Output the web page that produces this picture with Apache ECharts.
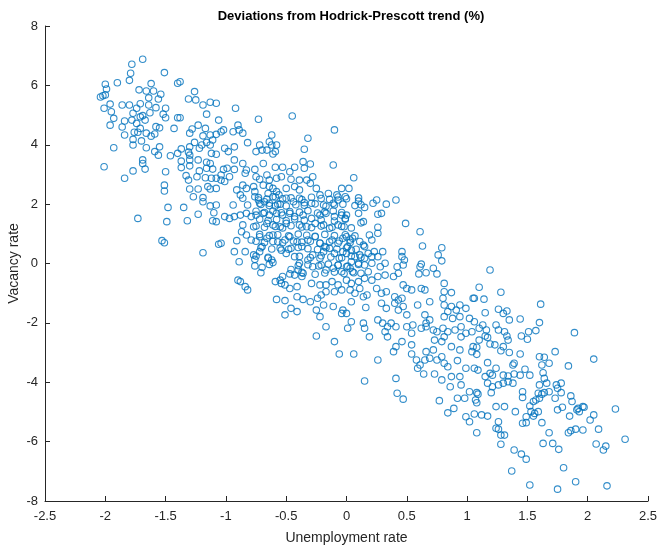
<!DOCTYPE html>
<html>
<head>
<meta charset="utf-8">
<script src="https://cdn.jsdelivr.net/npm/echarts@6/dist/echarts.min.js"></script>
<style>
  html, body { margin: 0; padding: 0; background: #fff; }
  #chart { width: 659px; height: 546px; }
</style>
</head>
<body>
<div id="chart"></div>
<script>
// HP-filtered deviations (%): [unemployment, vacancy]
const deviations = [
  [-1.69,6.88],[-1.78,6.71],[-1.79,6.41],[-1.80,6.17],[-1.51,6.43],[-1.90,6.09],[-2.00,6.04],[-1.40,6.07],[-1.38,6.12],[-1.62,6.06],
  [-1.99,5.88],[-1.72,5.85],[-1.66,5.81],[-1.60,5.81],[-2.02,5.65],[-2.04,5.61],[-2.00,5.68],[-1.54,5.70],[-1.64,5.58],[-1.56,5.54],
  [-1.26,5.79],[-1.31,5.54],[-1.25,5.51],[-1.96,5.37],[-1.86,5.34],[-1.80,5.34],[-1.71,5.38],[-1.64,5.34],[-1.19,5.34],[-1.13,5.43],
  [-1.08,5.40],[-2.01,5.23],[-1.74,5.23],[-1.58,5.25],[-1.50,5.23],[-1.95,5.11],[-1.77,5.06],[-1.63,5.08],[-1.52,5.03],[-1.16,5.03],
  [-1.93,4.89],[-1.84,4.80],[-1.78,4.83],[-1.71,4.94],[-1.69,4.98],[-1.67,4.83],[-1.50,4.91],[-1.40,4.91],[-1.38,4.91],[-1.06,4.83],
  [-1.74,4.72],[-1.96,4.66],[-1.86,4.60],[-1.71,4.55],[-1.58,4.61],[-1.55,4.57],[-1.43,4.55],[-1.28,4.53],[-1.23,4.66],[-1.17,4.55],
  [-1.76,4.42],[-1.73,4.42],[-1.66,4.39],[-1.59,4.36],[-1.30,4.39],[-1.84,4.33],[-1.19,4.30],[-1.13,4.33],[-1.08,4.35],[-1.77,4.18],
  [-1.70,4.13],[-1.62,4.29],[-1.26,4.08],[-1.16,4.08],[-1.11,4.16],[-1.93,3.90],[-1.77,3.99],[-1.66,3.90],[-1.55,3.93],[-1.37,3.86],
  [-1.30,3.93],[-1.20,3.99],[-1.13,3.99],[-1.59,3.77],[-1.56,3.65],[-1.46,3.63],[-1.40,3.71],[-1.31,3.75],[-1.30,3.65],[-1.22,3.88],
  [-1.12,3.71],[-1.08,3.68],[-1.69,3.49],[-1.69,3.37],[-1.37,3.45],[-1.30,3.49],[-1.23,3.49],[-1.16,3.41],[-1.13,3.37],[-2.01,3.26],
  [-1.67,3.18],[-1.50,3.09],[-1.77,3.12],[-1.37,3.23],[-1.30,3.29],[-1.22,3.12],[-1.16,3.21],[-1.11,3.18],[-1.84,2.87],[-1.33,2.96],
  [-1.31,2.81],[-1.24,2.92],[-1.17,2.89],[-1.12,2.87],[-1.08,2.87],[-1.51,2.64],[-1.51,2.44],[-1.30,2.51],[-1.23,2.51],[-1.15,2.59],
  [-1.13,2.51],[-1.08,2.53],[-1.27,2.25],[-1.19,2.22],
  [-1.73,1.52],[-1.48,1.89],[-1.35,1.89],[-1.49,1.41],[-1.32,1.44],[-1.23,1.66],[-1.19,2.08],[-1.13,1.94],[-1.08,1.97],[-1.10,1.71],
  [-1.11,1.44],[-1.08,1.41],[-1.53,0.77],[-1.51,0.70],[-1.19,0.36],[-1.06,0.65],
  [-0.92,5.23],[-0.73,4.86],[-0.45,4.97],[-0.10,4.50],[-0.90,4.66],[-0.89,4.50],[-0.86,4.39],[-1.02,4.50],[-1.04,4.44],[-0.94,4.44],
  [-0.62,4.33],[-0.32,4.22],[-0.82,4.07],[-0.64,4.10],[-0.62,3.99],[-0.72,3.99],[-0.70,3.82],[-0.75,3.77],[-0.58,3.99],[-0.35,3.85],
  [-1.01,3.88],[-0.98,3.77],[-0.93,3.93],[-0.66,3.82],[-0.61,3.69],[-0.59,3.77],[-0.93,3.49],[-0.86,3.37],[-0.69,3.37],[-0.36,3.43],
  [-0.30,3.35],[-0.11,3.32],[-1.02,3.17],[-0.99,3.21],[-0.93,3.17],[-0.83,3.15],[-0.76,3.17],[-0.59,3.24],[-0.53,3.24],[-0.47,3.09],
  [-0.43,3.24],[-0.35,3.21],[-0.28,2.92],[-1.04,2.98],[-0.97,2.92],[-0.84,3.04],[-0.75,2.92],[-0.72,2.84],[-0.66,2.98],[-0.64,2.81],
  [-0.58,2.87],[-0.54,2.92],[-0.46,2.84],[-0.39,2.81],[-0.33,2.81],[-1.04,2.81],[-1.01,2.76],[-0.91,2.48],[-0.86,2.64],[-0.83,2.53],
  [-0.77,2.59],[-0.76,2.42],[-0.69,2.64],[-0.64,2.59],[-0.61,2.53],[-0.58,2.42],[-0.56,2.31],[-0.65,2.36],[-0.61,2.25],[-0.50,2.53],
  [-0.43,2.59],[-0.39,2.48],[-0.30,2.70],[-0.25,2.53],[-0.15,2.36],[-0.04,2.53],[-0.22,2.31],[-0.08,2.31],[-0.88,2.31],[-0.86,2.20],
  [-0.76,2.25],[-0.73,2.14],[-0.94,1.97],[-0.82,1.97],[-0.72,2.03],[-0.68,2.08],[-0.64,2.03],[-0.59,1.94],[-0.55,2.00],[-0.50,2.20],
  [-0.44,2.08],[-0.39,2.20],[-0.35,2.05],[-0.29,2.03],[-0.19,1.97],[-0.11,2.03],[-0.07,2.14],
  [-1.01,1.58],[-0.97,1.52],[-0.93,1.58],[-0.88,1.63],[-0.83,1.69],[-0.79,1.58],[-0.75,1.63],[-0.69,1.69],[-0.64,1.63],[-0.58,1.69],
  [-0.53,1.63],[-0.47,1.69],[-0.43,1.58],[-0.36,1.63],[-0.29,1.52],[-0.22,1.63],[-0.17,1.69],[-0.10,1.58],[-0.04,1.63],[-0.86,1.30],
  [-0.77,1.24],[-0.66,1.35],[-0.61,1.30],[-0.55,1.24],[-0.50,1.35],[-0.39,1.30],[-0.33,1.24],[-0.26,1.35],[-0.19,1.30],[-0.14,1.19],
  [-0.07,1.30],[-0.02,1.24],[-1.04,0.68],[-0.91,0.77],[-0.87,1.07],[-0.83,0.96],[-0.79,0.79],[-0.72,0.90],[-0.66,0.85],[-0.61,0.96],
  [-0.57,0.73],[-0.51,0.79],[-0.47,0.90],[-0.41,0.73],[-0.37,0.57],[-0.32,0.79],[-0.26,0.90],[-0.22,0.68],[-0.18,0.57],[-0.12,0.79],
  [-0.07,0.68],[-0.03,0.85],[-0.93,0.40],[-0.84,0.40],[-0.77,0.29],[-0.76,0.14],[-0.70,0.57],[-0.72,0.40],[-0.65,0.18],[-0.62,0.12],
  [-0.61,0.03],[-0.54,0.45],[-0.50,0.34],[-0.46,0.51],[-0.43,0.23],[-0.39,0.01],[-0.32,0.12],[-0.28,0.29],[-0.22,0.18],[-0.19,0.40],
  [-0.14,0.51],[-0.10,0.34],[-0.06,0.18],[-0.03,0.40],[-0.89,0.06],[-0.76,-0.08],[-0.70,-0.13],[-0.46,-0.20],[-0.40,-0.22],[-0.36,-0.33],
  [-0.43,-0.39],[-0.28,-0.11],[-0.21,-0.05],[-0.17,-0.22],[-0.11,-0.16],[-0.07,-0.05],[-0.04,-0.28],[-0.90,-0.56],[-0.88,-0.61],[-0.84,-0.78],
  [-0.82,-0.89],[-0.59,-0.61],[-0.55,-0.56],[-0.53,-0.44],[-0.54,-0.67],[-0.51,-0.72],[-0.47,-0.84],[-0.41,-0.78],[-0.37,-0.44],[-0.29,-0.67],
  [-0.22,-0.72],[-0.17,-0.72],[-0.12,-0.61],[-0.07,-0.72],[-0.04,-0.89],[-0.17,-0.95],[-0.10,-0.95],[-0.58,-1.21],[-0.51,-1.25],[-0.41,-1.12],
  [-0.36,-1.21],[-0.30,-1.29],[-0.24,-1.17],[-0.21,-1.06],[-0.19,-1.40],[-0.11,-1.45],[-0.46,-1.51],[-0.41,-1.62],[-0.25,-1.57],[-0.22,-1.79],
  [-0.51,-1.73],[-0.04,-1.68],[-0.03,-1.57],[-0.17,-2.13],[-0.25,-2.44],[-0.10,-2.63],[-0.06,-3.05],
  [0.06,2.89],[0.02,2.53],[-0.01,2.25],[0.10,2.10],[0.15,1.89],[0.22,2.03],[0.25,2.14],[0.33,2.00],[0.41,2.14],[0.10,1.69],
  [0.00,1.63],[-0.01,1.52],[0.26,1.66],[0.29,1.69],[0.12,1.37],[0.14,1.41],[0.26,1.22],[0.26,1.02],[0.49,1.35],[0.61,1.07],
  [0.19,0.96],[0.21,0.79],[0.00,0.90],[0.03,0.79],[0.05,0.85],[0.14,0.62],[0.15,0.57],[0.01,0.57],[0.04,0.45],[0.00,0.34],
  [0.63,0.59],[0.79,0.53],[0.76,0.29],[0.23,0.40],[0.30,0.40],[0.46,0.40],[0.46,0.23],[0.48,0.12],[0.07,0.23],[0.11,0.29],
  [0.18,0.34],[0.15,0.18],[0.21,0.23],[0.26,0.23],[0.04,0.06],[0.10,0.01],[0.15,-0.05],[0.21,0.01],[0.32,0.01],[0.28,-0.11],
  [0.42,-0.11],[0.47,-0.05],[0.62,-0.02],[0.61,-0.11],[0.79,0.09],[0.72,-0.16],[0.00,-0.11],[0.03,-0.16],
  [0.00,-0.56],[0.04,-0.67],[0.10,-0.61],[0.15,-0.50],[0.21,-0.56],[0.26,-0.44],[0.32,-0.39],[0.39,-0.44],[0.43,-0.33],[0.05,-0.28],
  [0.12,-0.33],[0.18,-0.28],[0.03,-0.89],[0.07,-1.00],[0.11,-0.84],[0.14,-1.12],[0.17,-1.06],[0.25,-0.84],[0.29,-1.00],[0.33,-0.95],
  [0.40,-1.12],[0.43,-1.23],[0.46,-1.17],[0.47,-0.72],[0.50,-0.84],[0.54,-0.89],[0.62,-0.84],[0.65,-0.89],[0.60,-0.35],[0.66,-0.31],
  [0.75,-0.35],[0.81,-0.67],[0.81,-0.95],[0.87,-0.98],[0.80,-1.17],[0.04,-1.29],[0.00,-1.68],[0.16,-1.48],[0.29,-1.34],[0.33,-1.51],
  [0.40,-1.34],[0.43,-1.57],[0.47,-1.45],[0.50,-1.73],[0.59,-1.40],[0.69,-1.29],[0.81,-1.40],[0.84,-1.62],[0.87,-1.45],[0.91,-1.57],
  [0.94,-1.40],[0.99,-1.51],[0.81,-1.79],[0.88,-1.85],[0.94,-1.79],[0.65,-1.73],[0.69,-1.90],[0.66,-2.01],[0.04,-1.96],[0.01,-2.18],
  [0.14,-2.01],[0.15,-2.18],[0.19,-2.47],[0.26,-1.90],[0.30,-2.01],[0.32,-2.30],[0.34,-2.47],[0.37,-2.01],[0.41,-2.13],[0.34,-2.13],
  [0.50,-2.13],[0.54,-2.35],[0.55,-2.07],[0.62,-2.18],[0.66,-2.13],[0.72,-2.24],[0.75,-2.30],[0.80,-2.18],[0.84,-2.30],[0.90,-2.24],
  [0.95,-2.13],[0.99,-2.35],[0.95,-2.47],[0.73,-2.58],[0.79,-2.63],[0.81,-2.47],[0.87,-2.80],[0.94,-2.91],[0.06,-3.05],[0.26,-3.25],
  [0.39,-2.97],[0.41,-2.80],[0.46,-2.63],[0.54,-2.74],[0.54,-3.05],[0.66,-2.97],[0.69,-3.19],[0.72,-2.91],[0.58,-3.25],[0.61,-3.42],
  [0.59,-3.53],[0.65,-3.25],[0.75,-3.25],[0.79,-3.14],[0.81,-3.36],[0.84,-3.48],[0.92,-3.27],[0.99,-3.53],[0.64,-3.72],[0.73,-3.72],
  [0.79,-3.92],[0.87,-3.81],[0.94,-3.81],[0.95,-4.09],[0.86,-4.15],[0.15,-3.96],[0.41,-3.87],[0.42,-4.37],[0.47,-4.57],[0.77,-4.62],
  [0.92,-4.54],[0.98,-4.54],[0.89,-4.88],[0.84,-5.03],[0.99,-5.16],
  [1.19,-0.22],[1.10,-0.80],[1.28,-0.97],[1.05,-1.17],[1.06,-1.17],[1.14,-1.20],[1.61,-1.37],[1.15,-1.66],[1.26,-1.54],[1.30,-1.68],
  [1.33,-1.60],[1.35,-1.90],[1.44,-1.87],[1.60,-1.99],[1.06,-1.96],[1.02,-1.85],[1.13,-2.07],[1.10,-2.18],[1.16,-2.24],[1.24,-2.07],
  [1.26,-2.24],[1.31,-2.30],[1.33,-2.44],[1.34,-2.58],[1.51,-2.30],[1.57,-2.26],[1.45,-2.44],[1.50,-2.55],[1.89,-2.33],[1.15,-2.44],
  [1.17,-2.49],[1.10,-2.58],[1.04,-2.30],[1.19,-2.71],[1.23,-2.74],[1.30,-2.80],[1.05,-2.80],[1.08,-2.82],[1.04,-2.97],[1.28,-2.94],
  [1.35,-3.00],[1.44,-3.05],[1.73,-2.97],[1.60,-3.14],[1.64,-3.16],[1.08,-3.06],[2.05,-3.22],[1.17,-3.34],[1.39,-3.36],[1.38,-3.42],
  [1.62,-3.42],[1.68,-3.36],[1.84,-3.45],[1.06,-3.53],[1.09,-3.59],[1.24,-3.53],[1.48,-3.56],[1.63,-3.68],[1.19,-3.70],[1.21,-3.76],
  [1.15,-3.81],[1.30,-3.76],[1.34,-3.79],[1.39,-3.72],[1.44,-3.76],[1.52,-3.76],[1.64,-3.87],
  [1.08,-4.35],[1.09,-4.40],[1.07,-4.60],[1.08,-4.69],[1.02,-4.32],[1.17,-4.03],[1.21,-4.15],[1.26,-4.09],[1.30,-4.03],[1.34,-3.98],
  [1.38,-4.03],[1.20,-4.35],[1.24,-4.82],[1.31,-4.82],[1.06,-5.07],[1.12,-5.10],[1.17,-5.14],[1.02,-5.33],[1.26,-5.33],[1.24,-5.55],
  [1.26,-5.58],[1.08,-5.70],[1.28,-5.78],[1.31,-5.78],[1.28,-6.09],[1.40,-4.99],[1.46,-4.32],[1.46,-4.51],[1.52,-4.80],[1.55,-4.65],
  [1.57,-4.60],[1.60,-4.54],[1.59,-4.37],[1.62,-4.40],[1.64,-4.35],[1.53,-4.99],[1.56,-5.05],[1.59,-4.99],[1.55,-5.14],[1.49,-5.16],
  [1.46,-5.38],[1.49,-5.36],[1.62,-5.36],[1.60,-4.09],[1.66,-4.03],[1.74,-4.09],[1.78,-4.03],[1.75,-4.20],[1.68,-4.32],[1.78,-4.35],
  [1.73,-4.54],[1.86,-4.46],[1.87,-4.65],[1.75,-4.93],[1.79,-4.84],[1.85,-5.14],[1.91,-4.93],[1.92,-4.88],[1.93,-4.99],[1.96,-4.82],
  [1.97,-4.84],[2.05,-5.10],[2.02,-5.27],[2.23,-4.90],[1.68,-5.70],[1.84,-5.70],[1.86,-5.63],[1.90,-5.58],[1.96,-5.61],[2.09,-5.58],
  [1.63,-6.06],[1.71,-6.06],[1.76,-6.26],[1.39,-6.28],[1.45,-6.42],[1.49,-6.59],[2.07,-6.08],[2.15,-6.15],[2.13,-6.28],[2.31,-5.92],
  [1.37,-6.99],[1.80,-6.88],[1.52,-7.46],[1.75,-7.60],[1.90,-7.35],[2.16,-7.49]
];

// extra points read from a close-up of the crowded core (-0.75..0.12, -0.4..2.3)
const corePoints = [
  [-0.73,2.22],[-0.66,2.17],[-0.59,2.24],[-0.53,2.18],[-0.46,2.21],[-0.37,2.15],[-0.29,2.23],[-0.21,2.19],[-0.14,2.16],[-0.07,2.24],[0.00,2.18],[0.10,2.21],
  [-0.71,1.99],[-0.64,1.95],[-0.57,2.00],[-0.50,1.94],[-0.42,1.98],[-0.35,1.96],[-0.26,2.01],[-0.17,1.93],[-0.10,1.97],[-0.03,2.00],[0.07,1.95],[0.12,1.98],
  [-0.75,1.76],[-0.68,1.72],[-0.61,1.77],[-0.54,1.71],[-0.47,1.75],[-0.39,1.73],[-0.32,1.78],[-0.24,1.70],[-0.18,1.74],[-0.11,1.77],[-0.04,1.72],
  [-0.72,1.49],[-0.65,1.45],[-0.58,1.48],[-0.50,1.44],[-0.43,1.50],[-0.35,1.46],[-0.21,1.47],[-0.10,1.43],[-0.01,1.49],
  [-0.75,1.26],[-0.68,1.22],[-0.59,1.25],[-0.53,1.20],[-0.46,1.27],[-0.37,1.23],[-0.29,1.21],[-0.21,1.26],[-0.12,1.22],[-0.04,1.25],[0.04,1.20],
  [-0.72,0.98],[-0.64,0.94],[-0.57,0.97],[-0.48,0.93],[-0.40,0.99],[-0.33,0.95],[-0.26,0.92],[-0.18,0.98],[-0.10,0.94],[-0.01,0.97],[0.07,0.93],
  [-0.75,0.75],[-0.68,0.71],[-0.61,0.74],[-0.53,0.70],[-0.44,0.76],[-0.37,0.72],[-0.30,0.75],[-0.22,0.69],[-0.14,0.73],[-0.06,0.76],[0.03,0.71],[0.11,0.74],
  [-0.71,0.53],[-0.62,0.49],[-0.55,0.52],[-0.48,0.48],[-0.40,0.54],[-0.32,0.50],[-0.24,0.47],[-0.17,0.53],[-0.08,0.49],[0.00,0.52],[0.08,0.48],
  [-0.75,0.25],[-0.65,0.21],[-0.39,0.24],[-0.30,0.20],[-0.21,0.26],[-0.13,0.22],[-0.04,0.19],[0.04,0.25],[0.12,0.21],
  [-0.64,-0.03],[-0.40,-0.07],[-0.32,-0.04],[-0.23,-0.08],[-0.15,-0.02],[-0.07,-0.06],[0.01,-0.09],[0.10,-0.03],
  [-0.71,-0.31],[-0.47,-0.35],[-0.37,-0.30],[-0.26,-0.36],[-0.18,-0.32],[-0.10,-0.29],[-0.02,-0.34],[0.06,-0.31]
];

const xTicks = [-2.5, -2, -1.5, -1, -0.5, 0, 0.5, 1, 1.5, 2, 2.5];
const yTicks = [-8, -6, -4, -2, 0, 2, 4, 6, 8];

const txt = '#262626';
const font = '"Liberation Sans", Arial, Helvetica, sans-serif';

const chart = echarts.init(document.getElementById('chart'), null, { renderer: 'canvas' });

const axisCommon = {
  splitLine: { show: false },
  axisLine: { show: true, onZero: false, lineStyle: { color: txt, width: 1 } },
  axisTick: { show: true, inside: true, length: 5, lineStyle: { color: txt, width: 1 } },
  axisLabel: { color: txt, fontSize: 13, fontFamily: font },
  nameLocation: 'middle',
  nameMoveOverlap: false,
  nameTextStyle: { color: txt, fontSize: 14, fontFamily: font }
};

chart.setOption({
  animation: false,
  backgroundColor: '#fff',
  title: {
    text: 'Deviations from Hodrick-Prescott trend (%)',
    left: 346,
    textAlign: 'center',
    top: 5,
    textStyle: { color: '#000', fontSize: 13, fontWeight: 'bold', fontFamily: font }
  },
  grid: { left: 45, right: 11, top: 26, bottom: 45, containLabel: false, outerBoundsMode: 'none' },
  xAxis: Object.assign({}, axisCommon, {
    type: 'value',
    min: xTicks[0],
    max: xTicks[xTicks.length - 1],
    interval: 0.5,
    name: 'Unemployment rate',
    nameGap: 30,
    axisLabel: Object.assign({}, axisCommon.axisLabel, { margin: 9 })
  }),
  yAxis: Object.assign({}, axisCommon, {
    type: 'value',
    min: yTicks[0],
    max: yTicks[yTicks.length - 1],
    interval: 2,
    name: 'Vacancy rate',
    nameGap: 24,
    nameRotate: 90,
    axisLabel: Object.assign({}, axisCommon.axisLabel, { margin: 7 })
  }),
  series: [{
    type: 'scatter',
    data: deviations.concat(corePoints),
    symbol: 'circle',
    symbolSize: 6.5,
    itemStyle: { color: 'rgba(0,0,0,0)', borderColor: '#0072BD', borderWidth: 1.1 }
  }]
});
</script>
</body>
</html>
